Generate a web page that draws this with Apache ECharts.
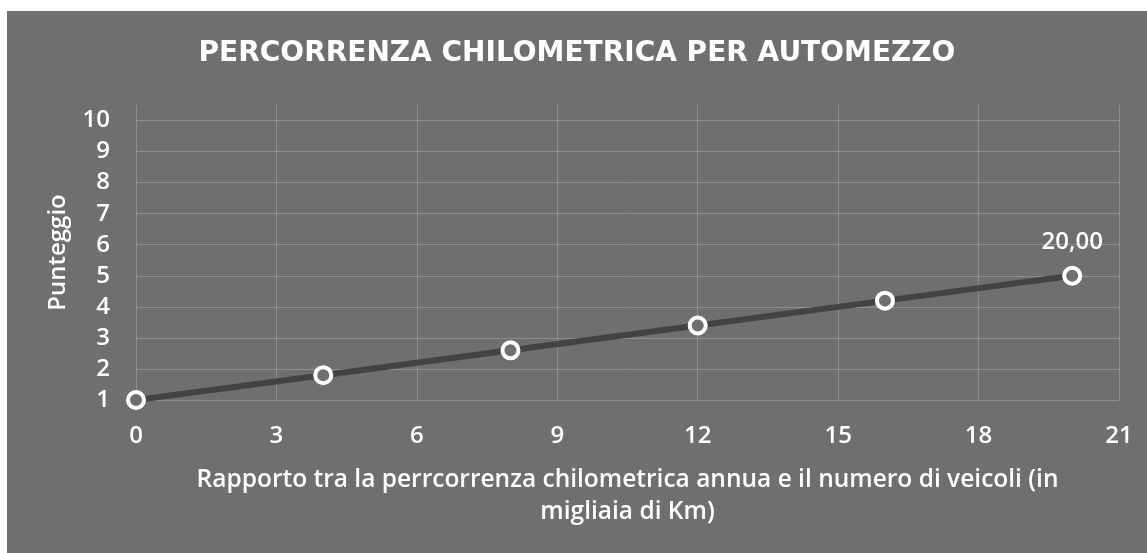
<!DOCTYPE html>
<html>
<head>
<meta charset="utf-8">
<script src="https://cdn.jsdelivr.net/npm/echarts@6/dist/echarts.min.js"></script>
<style>
html, body { margin: 0; padding: 0; background: #fff; }
#chart {
  position: absolute;
  left: 7px;
  top: 11px;
  width: 1140px;
  height: 542px;
}
</style>
</head>
<body>
<div id="chart"></div>
<script>
var xValues = [0, 4, 8, 12, 16, 20];
var yValues = [1, 1.8, 2.6, 3.4, 4.2, 5];
var labelled = [20];

var bg = "#6f6f6f";
var gridColor = "#8e8e8e";
var font = "'Open Sans', sans-serif";

var points = xValues.map(function (x, i) {
  return [x, yValues[i]];
});

// last split line (at 10.5) must not be drawn
var yGridColors = [];
for (var i = 0; i < 10; i++) yGridColors.push(gridColor);
yGridColors.push("rgba(0,0,0,0)");

var myChart = echarts.init(document.getElementById("chart"));
myChart.setOption({
  backgroundColor: bg,
  animation: false,
  title: {
    text: "PERCORRENZA CHILOMETRICA PER AUTOMEZZO",
    left: "center",
    top: 24,
    textStyle: {
      color: "#fff",
      fontFamily: "'DejaVu Sans', sans-serif",
      fontWeight: "bold",
      fontSize: 28
    }
  },
  grid: {
    left: 129,
    right: 28,
    top: 94,
    bottom: 153
  },
  xAxis: {
    type: "value",
    min: 0,
    max: 21,
    interval: 3,
    name: "Rapporto tra la perrcorrenza chilometrica annua e il numero di veicoli (in\nmigliaia di Km)",
    nameLocation: "middle",
    nameGap: 64,
    nameTextStyle: {
      color: "#fff",
      fontFamily: font,
      fontWeight: 600,
      fontSize: 24.5,
      lineHeight: 32
    },
    axisLine: { show: false },
    axisTick: { show: false },
    axisLabel: {
      color: "#fff",
      fontFamily: font,
      fontWeight: 600,
      fontSize: 24,
      margin: 24
    },
    splitLine: {
      show: true,
      lineStyle: { color: gridColor, width: 1 }
    }
  },
  yAxis: {
    type: "value",
    min: 1,
    max: 10.5,
    interval: 1,
    name: "Punteggio",
    nameLocation: "middle",
    nameGap: 66,
    nameTextStyle: {
      color: "#fff",
      fontFamily: font,
      fontWeight: 600,
      fontSize: 24
    },
    axisLine: { show: false },
    axisTick: { show: false },
    axisLabel: {
      color: "#fff",
      fontFamily: font,
      fontWeight: 600,
      fontSize: 24,
      margin: 26,
      showMaxLabel: false,
      formatter: function (v) {
        return v > 10 ? "" : String(v);
      }
    },
    splitLine: {
      show: true,
      lineStyle: { color: yGridColors, width: 1 }
    }
  },
  series: [
    {
      type: "line",
      data: points,
      symbol: "circle",
      symbolSize: 16,
      lineStyle: { color: "#434343", width: 6 },
      itemStyle: {
        color: bg,
        borderColor: "#fff",
        borderWidth: 4
      },
      label: {
        show: true,
        position: "top",
        distance: 12,
        color: "#fff",
        fontFamily: font,
        fontWeight: 600,
        fontSize: 24,
        formatter: function (p) {
          if (labelled.indexOf(p.value[0]) < 0) return "";
          return p.value[0].toFixed(2).replace(".", ",");
        }
      },
      z: 3
    }
  ]
});
</script>
</body>
</html>
